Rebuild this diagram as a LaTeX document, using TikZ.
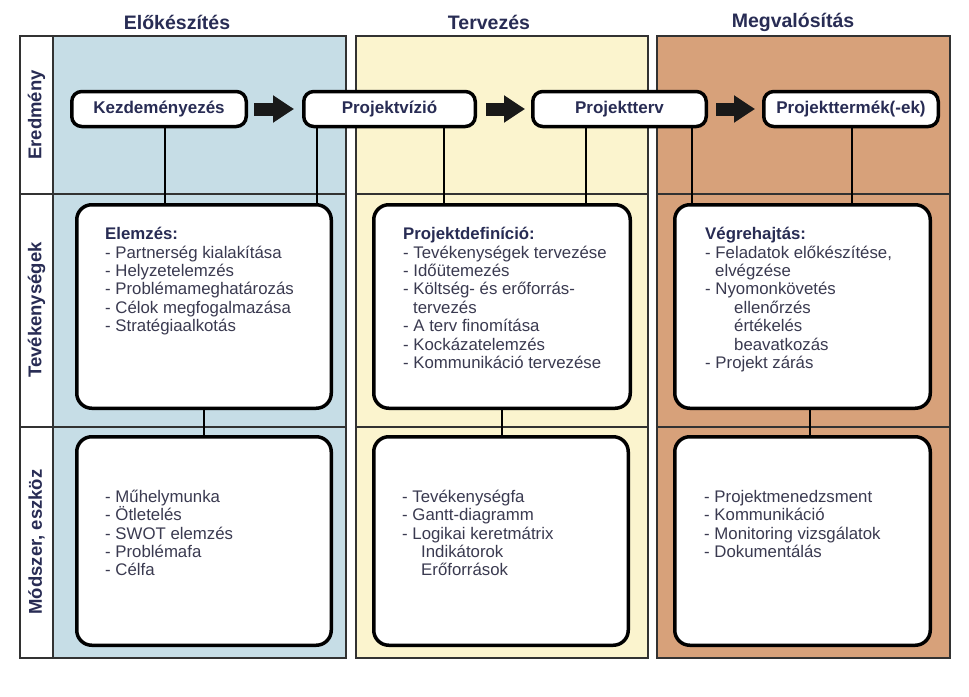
\documentclass[tikz,border=0pt]{standalone}
\usepackage{fontspec}
\setmainfont{Liberation Sans}
\usetikzlibrary{arrows.meta}
\definecolor{cblue}{RGB}{198,221,230}
\definecolor{cyellow}{RGB}{251,244,206}
\definecolor{corange}{RGB}{215,161,122}
\definecolor{navy}{RGB}{40,44,84}
\definecolor{bodytxt}{RGB}{58,58,80}
\definecolor{framec}{RGB}{50,50,50}
\newcommand\tstr{\rule{0pt}{15pt}}
\begin{document}
\begin{tikzpicture}[x=1pt,y=-1pt,
  col/.style={draw=framec, line width=1.8pt},
  resbox/.style={draw=black, line width=3.5pt, rounded corners=10pt, fill=white, minimum height=35pt, font=\fontsize{17}{20}\selectfont\bfseries, text=navy, inner sep=0pt},
  bigbox/.style={draw=black, line width=3.5pt, rounded corners=15pt, fill=white, inner sep=0pt},
  conn/.style={draw=black, line width=2.8pt},
  blk/.style={draw=black!90, line width=13pt, -{Triangle[length=21pt,width=26pt]}},
  body/.style={anchor=north west, inner sep=0pt, align=left, text=bodytxt, font=\fontsize{16.8}{18.4}\selectfont},
  hdr/.style={text=navy, font=\fontsize{19.5}{22}\selectfont\bfseries},
  rowlab/.style={rotate=90, text=navy, font=\fontsize{18.5}{22}\selectfont\bfseries}
]
\useasboundingbox (0,0) rectangle (969,696);
\fill[white] (0,0) rectangle (969,696);

% columns
\fill[cblue] (53,36) rectangle (346,658);
\fill[cyellow] (356,36) rectangle (648,658);
\fill[corange] (657,36) rectangle (950,658);
\foreach \a/\b in {20/53,53/346,356/648,657/950}{
  \draw[col] (\a,36) rectangle (\b,658);
  \draw[col] (\a,194) -- (\b,194);
  \draw[col] (\a,427) -- (\b,427);
}

% headers and row labels
\node[hdr] (h1) at (177,22) {Előkészítés};
\node[hdr] (h2) at (489,22) {Tervezés};
\node[hdr] (h3) at (793,22) {Megvalósítás};
\node[rowlab] (r1) at (36.5,115) {Eredmény};
\node[rowlab] (r2) at (36.5,310) {Tevékenységek};
\node[rowlab] (r3) at (36.5,542) {Módszer, eszköz};

% result boxes
\node[resbox, minimum width=174.5pt] (kez) at (159,109) {Kezdeményezés};
\node[resbox, minimum width=171.5pt] (viz) at (389.5,109) {Projektvízió};
\node[resbox, minimum width=173.5pt] (terv) at (619.5,109) {Projektterv};
\node[resbox, minimum width=174.5pt] (term) at (851,109) {Projekttermék(-ek)};

% activity boxes
\node[bigbox, minimum width=254.5pt, minimum height=203.5pt] (elem) at (204,306.5) {};
\node[bigbox, minimum width=256.5pt, minimum height=203.5pt] (pdef) at (502,306.5) {};
\node[bigbox, minimum width=255.5pt, minimum height=203.5pt] (vegr) at (802.5,306.5) {};

% method boxes
\node[bigbox, minimum width=254.5pt, minimum height=208.5pt] (m1) at (204,541) {};
\node[bigbox, minimum width=254.5pt, minimum height=208.5pt] (m2) at (501,541) {};
\node[bigbox, minimum width=255.5pt, minimum height=208.5pt] (m3) at (802.5,541) {};

% arrows
\draw[blk] ([xshift=6pt]kez.east) -- ([xshift=-8pt]viz.west);
\draw[blk] ([xshift=9pt]viz.east) -- ([xshift=-6pt]terv.west);
\draw[blk] ([xshift=8pt]terv.east) -- ([xshift=-7pt]term.west);

% connectors row1 -> row2
\coordinate (c1) at ([xshift=6pt]kez.south);
\coordinate (c2) at ([xshift=-72.5pt]viz.south);
\coordinate (c3) at ([xshift=54.5pt]viz.south);
\coordinate (c4) at ([xshift=-33.5pt]terv.south);
\coordinate (c5) at ([xshift=72.5pt]terv.south);
\coordinate (c6) at ([xshift=1pt]term.south);
\draw[conn] (c1) -- (c1 |- elem.north);
\draw[conn] (c2) -- (c2 |- elem.north);
\draw[conn] (c3) -- (c3 |- pdef.north);
\draw[conn] (c4) -- (c4 |- pdef.north);
\draw[conn] (c5) -- (c5 |- vegr.north);
\draw[conn] (c6) -- (c6 |- vegr.north);
% connectors row2 -> row3
\draw[conn] (elem.south) -- (elem.south |- m1.north);
\draw[conn] (pdef.south) -- (pdef.south |- m2.north);
\coordinate (c7) at ([xshift=7.5pt]vegr.south);
\draw[conn] (c7) -- (c7 |- m3.north);

% texts row 2
\node[body] (elemtxt) at (105,224.5) {\tstr\textbf{\color{navy}Elemzés:}\\
- Partnerség kialakítása\\
- Helyzetelemzés\\
- Problémameghatározás\\
- Célok megfogalmazása\\
- Stratégiaalkotás};
\node[body] (pdeftxt) at (403,224.5) {\tstr\textbf{\color{navy}Projektdefiníció:}\\
- Tevékenységek tervezése\\
- Időütemezés\\
- Költség- és erőforrás-\\
\hspace*{10pt}tervezés\\
- A terv finomítása\\
- Kockázatelemzés\\
- Kommunikáció tervezése};
\node[body] (vegrtxt) at (705,224.5) {\tstr\textbf{\color{navy}Végrehajtás:}\\
- Feladatok előkészítése,\\
\hspace*{10pt}elvégzése\\
- Nyomonkövetés\\
\hspace*{29pt}ellenőrzés\\
\hspace*{29pt}értékelés\\
\hspace*{29pt}beavatkozás\\
- Projekt zárás};

% texts row 3
\node[body] (m1txt) at (105,487) {\tstr- Műhelymunka\\
- Ötletelés\\
- SWOT elemzés\\
- Problémafa\\
- Célfa};
\node[body] (m2txt) at (402,487) {\tstr- Tevékenységfa\\
- Gantt-diagramm\\
- Logikai keretmátrix\\
\hspace*{19pt}Indikátorok\\
\hspace*{19pt}Erőforrások};
\node[body] (m3txt) at (704,487) {\tstr- Projektmenedzsment\\
- Kommunikáció\\
- Monitoring vizsgálatok\\
- Dokumentálás};
\end{tikzpicture}
\end{document}
